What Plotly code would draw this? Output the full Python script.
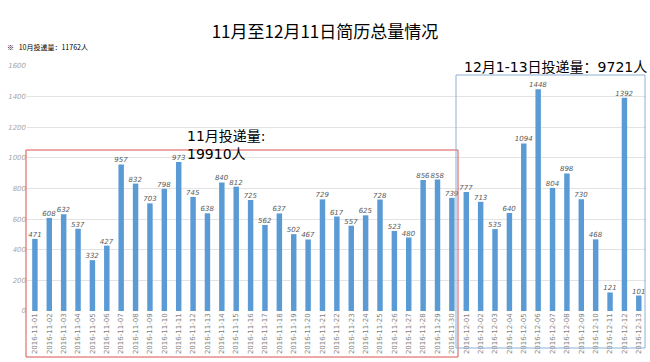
import plotly.graph_objects as go

nov_dates = [f"2016-11-{d:02d}" for d in range(1, 31)]
dec_dates = [f"2016-12-{d:02d}" for d in range(1, 14)]
dates = nov_dates + dec_dates

nov_values = [471, 608, 632, 537, 332, 427, 957, 832, 703, 798,
              973, 745, 638, 840, 812, 725, 562, 637, 502, 467,
              729, 617, 557, 625, 728, 523, 480, 856, 858, 739]
dec_values = [777, 713, 535, 640, 1094, 1448, 804, 898, 730, 468, 121, 1392, 101]
values = nov_values + dec_values

y_ticks = [0, 200, 400, 600, 800, 1000, 1200, 1400, 1600]

title_text = "11月至12月11日简历总量情况"
oct_note = "※   10月投递量：11762人"
nov_note = "11月投递量:<br>19910人"
dec_note = "12月1-13日投递量：9721人"

W, H = 650, 362
L, R, T, B = 27, 4, 66, 51
pw, ph = W - L - R, H - T - B

def px(x):
    return (x - L) / pw

def py(y):
    return (H - B - y) / ph

fig = go.Figure()
fig.add_trace(go.Bar(
    x=dates, y=values,
    marker=dict(color="#5b9bd5", line=dict(width=0)),
    width=0.38,
    text=[str(v) for v in values],
    textposition="outside",
    constraintext="none",
    textfont=dict(size=7, color="#595959", family="DejaVu Sans", style="italic"),
    cliponaxis=False,
))

fig.update_layout(
    width=W, height=H,
    margin=dict(l=L, r=R, t=T, b=B),
    paper_bgcolor="white", plot_bgcolor="white",
    showlegend=False,
    title=dict(text=title_text, x=0.5, xanchor="center", y=1 - 32 / H, yanchor="middle",
               font=dict(size=17, color="#000000", family="Noto Sans CJK SC")),
    xaxis=dict(type="category", range=[-0.55, 42.5], tickangle=-90,
               tickfont=dict(size=7, color="#7f7f7f", family="DejaVu Sans"),
               showgrid=False, showline=False, ticks="", automargin=False),
    yaxis=dict(range=[0, 1600], tickvals=y_ticks,
               tickfont=dict(size=7, color="#a6a6a6", family="DejaVu Sans", style="italic"),
               showgrid=True, gridcolor="#e3e3e3", gridwidth=1, zeroline=False,
               showline=False, ticks="", automargin=False),
    bargap=0.6,
)

# Highlight boxes
fig.add_shape(type="rect", xref="paper", yref="paper",
              x0=px(26), x1=px(458), y0=py(357), y1=py(150),
              line=dict(color="#d9534f", width=1), fillcolor="rgba(0,0,0,0)", layer="above")
fig.add_shape(type="rect", xref="paper", yref="paper",
              x0=px(456), x1=px(645), y0=py(348), y1=py(75),
              line=dict(color="#8fb0d6", width=1), fillcolor="rgba(0,0,0,0)", layer="above")

ann_font = dict(family="DejaVu Sans, Noto Sans CJK SC", color="#000000")
fig.add_annotation(xref="paper", yref="paper", x=px(5), y=py(47), xanchor="left", yanchor="middle",
                   text=oct_note, showarrow=False,
                   font=dict(size=7, family="Noto Sans CJK SC", color="#000000"))
fig.add_annotation(xref="paper", yref="paper", x=px(185), y=py(145), xanchor="left", yanchor="middle",
                   align="left", text=nov_note, showarrow=False, font=dict(size=14, **ann_font))
fig.add_annotation(xref="paper", yref="paper", x=px(462), y=py(67), xanchor="left", yanchor="middle",
                   text=dec_note, showarrow=False, font=dict(size=14, **ann_font))

fig.write_html("out.html", config={"displayModeBar": False},
               post_script="document.body.style.margin='0';")
